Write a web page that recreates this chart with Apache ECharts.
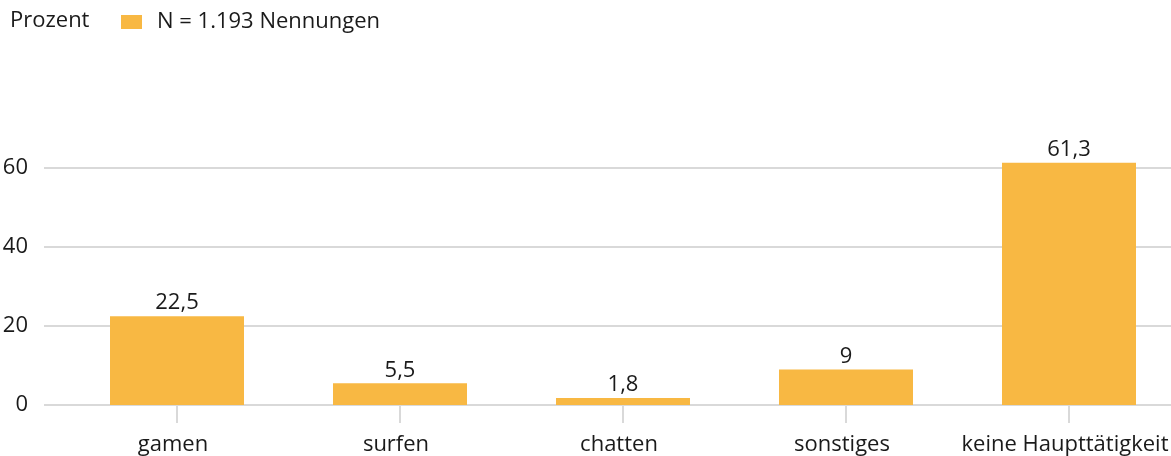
<!DOCTYPE html>
<html>
<head>
<meta charset="utf-8">
<script src="https://cdn.jsdelivr.net/npm/echarts@6/dist/echarts.min.js"></script>
<style>
  html, body { margin: 0; padding: 0; background: #fff; }
  #chart { width: 1171px; height: 456px; }
</style>
</head>
<body>
<div id="chart"></div>
<script>
// Hauptbeschäftigung am Computer (Prozent der Nennungen)
const categories = ['gamen', 'surfen', 'chatten', 'sonstiges', 'keine Haupttätigkeit'];
const shares = [22.5, 5.5, 1.8, 9, 61.3];
const seriesName = 'N = 1.193 Nennungen';
const unitLabel = 'Prozent';

const FONT = '"Open Sans", "Noto Sans", sans-serif';
const FS = 22;
const TEXT = '#1a1a1a';
const GRID_LINE = '#d9d9d9';
const BAR = '#f8b843';

const chart = echarts.init(document.getElementById('chart'), null, { renderer: 'canvas' });

chart.setOption({
  animation: false,
  backgroundColor: '#fff',
  textStyle: { fontFamily: FONT },
  title: {
    text: unitLabel,
    left: 10, top: 10, padding: 0,
    textStyle: { fontFamily: FONT, fontSize: FS, fontWeight: 'normal', color: TEXT }
  },
  legend: {
    left: 121, top: 11, padding: 0,
    itemWidth: 21, itemHeight: 14, itemGap: 10,
    icon: 'rect',
    textStyle: { fontFamily: FONT, fontSize: FS, color: TEXT, padding: [0, 0, 0, 10] },
    data: [seriesName]
  },
  grid: [
    // value scale with grid lines across the full width
    { left: 44, right: 0, top: 89, bottom: 51, containLabel: false, outerBoundsMode: 'none' },
    // category band for the bars
    { left: 65.5, right: -9.5, top: 89, bottom: 51, containLabel: false, outerBoundsMode: 'none' }
  ],
  xAxis: [
    { type: 'category', gridIndex: 0, data: categories, show: false },
    {
      type: 'category', gridIndex: 1, data: categories,
      axisLine: { show: false },
      axisTick: { show: true, alignWithLabel: true, length: 18, lineStyle: { color: GRID_LINE, width: 2 } },
      axisLabel: { margin: 29, fontFamily: FONT, fontSize: FS, color: TEXT, interval: 0, padding: [0, 8, 0, 0] }
    }
  ],
  yAxis: [
    {
      type: 'value', gridIndex: 0, min: 0, max: 80, interval: 20,
      axisLine: { show: false }, axisTick: { show: false },
      axisLabel: { margin: 16, fontFamily: FONT, fontSize: FS, color: TEXT, showMaxLabel: false },
      splitLine: { show: true, showMinLine: true, showMaxLine: false, lineStyle: { color: GRID_LINE, width: 2 } }
    },
    {
      type: 'value', gridIndex: 1, min: 0, max: 80, interval: 20, show: false,
      splitLine: { show: false }
    }
  ],
  series: [{
    name: seriesName,
    type: 'bar',
    xAxisIndex: 1, yAxisIndex: 1,
    data: shares,
    barWidth: 134,
    itemStyle: { color: BAR },
    label: {
      show: true, position: 'top', distance: 2,
      fontFamily: FONT, fontSize: FS, color: TEXT,
      formatter: p => String(p.value).replace('.', ',')
    }
  }]
});
</script>
</body>
</html>
